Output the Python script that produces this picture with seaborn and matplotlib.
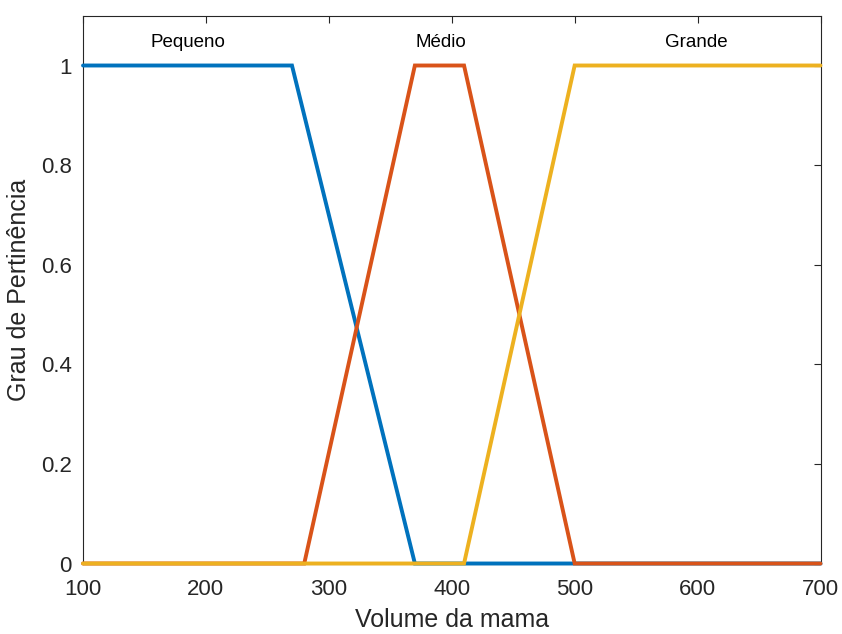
import matplotlib
matplotlib.use("Agg")
import matplotlib.pyplot as plt
import seaborn as sns
import pandas as pd

# Membership function vertices
pequeno_x = [100, 270, 370, 700]
pequeno_y = [1, 1, 0, 0]
medio_x = [100, 280, 370, 410, 500, 700]
medio_y = [0, 0, 1, 1, 0, 0]
grande_x = [100, 410, 500, 700]
grande_y = [0, 0, 1, 1]

labels = ["Pequeno", "Médio", "Grande"]
label_x = [185, 391, 599]
label_y = 1.047

colors = ["#0072BD", "#D95319", "#EDB120"]
xticks = [100, 200, 300, 400, 500, 600, 700]
yticks = [0, 0.2, 0.4, 0.6, 0.8, 1]
ytick_labels = ["0", "0.2", "0.4", "0.6", "0.8", "1"]

sns.set_style("white")
plt.rcParams['font.family'] = ['Liberation Sans', 'DejaVu Sans']

fig = plt.figure(figsize=(8.42, 6.34), dpi=100)
ax = fig.add_axes([83/842, 1 - 563.5/634, (820.5-83)/842, (563.5-15.7)/634])

series = [(pequeno_x, pequeno_y), (medio_x, medio_y), (grande_x, grande_y)]
for (xs, ys), c, name in zip(series, colors, labels):
    df = pd.DataFrame({"x": xs, "y": ys})
    sns.lineplot(data=df, x="x", y="y", ax=ax, color=c, linewidth=2.8,
                 sort=False, estimator=None, solid_joinstyle="miter",
                 clip_on=False, zorder=3)

for t, lx in zip(labels, label_x):
    ax.text(lx, label_y, t, ha="center", va="center", fontsize=13.5, color="#000000")

ax.set_xlim(100, 700)
ax.set_ylim(0, 1.1)
ax.set_xticks(xticks)
ax.set_yticks(yticks)
ax.set_yticklabels(ytick_labels)
ax.tick_params(direction="in", length=5, width=0.8, colors="#262626",
               labelsize=16, top=True, right=True)
ax.tick_params(axis="x", pad=11)
ax.tick_params(axis="y", pad=8)
for sp in ax.spines.values():
    sp.set_color("#262626")
    sp.set_linewidth(0.8)
    sp.set_visible(True)
    sp.set_zorder(2)
ax.set_xlabel("Volume da mama", fontsize=18, color="#262626", labelpad=6)
ax.set_ylabel("Grau de Pertinência", fontsize=18, color="#262626", labelpad=7)

fig.savefig("out.png", dpi=100)
